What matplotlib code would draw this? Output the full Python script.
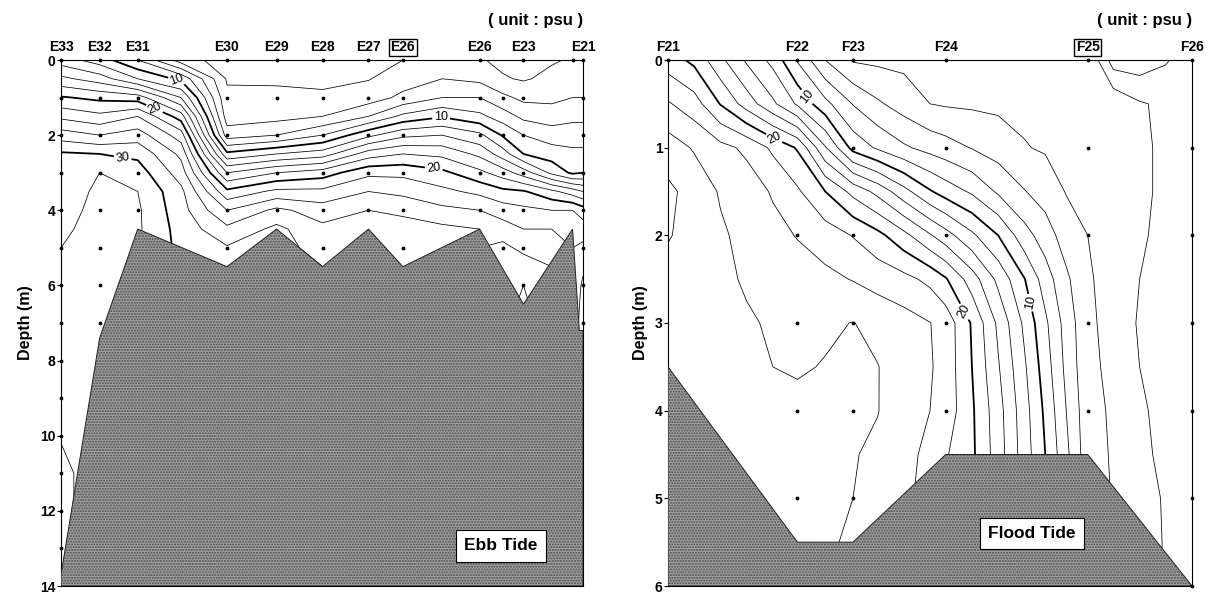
import numpy as np
import matplotlib
matplotlib.use("Agg")
from matplotlib import pyplot as plt
from matplotlib.patches import Polygon

plt.rcParams["font.family"] = ["Liberation Sans", "DejaVu Sans"]

# ---------------- ebb tide section (E stations) ----------------
ebb_stations = ["E33", "E32", "E31", "E30", "E29", "E28", "E27", "E26", "E26", "E23", "E21"]
ebb_station_x = [0.0, 0.074, 0.147, 0.318, 0.413, 0.501, 0.589, 0.655, 0.802, 0.886, 1.0]
ebb_boxed = 7

ebb_grid_x = [0.0, 0.074, 0.147, 0.23, 0.318, 0.413, 0.501, 0.589, 0.655, 0.73,
              0.802, 0.846, 0.886, 0.94, 0.98, 1.0]
ebb_grid_depth = [0, 0.5, 1, 1.5, 2, 2.5, 3, 3.5, 4, 4.5, 5, 5.5, 6, 6.5, 7,
                  8, 9, 10, 11, 12, 13, 14]
# salinity profiles, one list per grid column (psu)
ebb_profiles = [
    [13, 16.5, 20.2, 23.5, 27, 30.3, 30.8, 31.2, 31.5, 31.8, 32.0, 32.2, 32.3, 32.3, 32.3, 32.3, 32.3, 32.05, 31.8, 31.8, 31.8, 31.8],
    [11, 15, 19.5, 22.5, 26, 30, 32, 32.3, 32.4, 32.4, 32.4, 32.4, 32.4, 32.4, 32.4, 32.4, 32.4, 32.4, 32.4, 32.4, 32.4, 32.4],
    [8, 12, 19, 24, 27, 29.5, 31, 32, 32.3, 32.3, 32.3, 32.3, 32.3, 32.3, 32.3, 32.3, 32.3, 32.3, 32.3, 32.3, 32.3, 32.3],
    [3, 9.5, 14, 19, 23, 25.5, 27, 28.5, 28.8, 29.2, 29.4, 29.4, 29.4, 29.4, 29.4, 29.4, 29.4, 29.4, 29.4, 29.4, 29.4, 29.4],
    [1, 1.8, 2.4, 3, 5, 10.5, 16, 20.5, 24, 26.5, 28.2, 28.5, 28.5, 28.5, 28.5, 28.5, 28.5, 28.5, 28.5, 28.5, 28.5, 28.5],
    [1, 1.7, 2.5, 3.3, 6, 12, 18, 22.5, 26.5, 28.5, 28.5, 28.5, 28.5, 28.5, 28.5, 28.5, 28.5, 28.5, 28.5, 28.5, 28.5, 28.5],
    [1, 1.6, 2.3, 4, 8, 13, 19, 22.5, 25, 26.5, 27.5, 28, 28, 28, 28, 28, 28, 28, 28, 28, 28, 28],
    [1.2, 1.9, 3, 6, 11.5, 17, 21.5, 24, 26, 27.5, 27.5, 27.5, 27.5, 27.5, 27.5, 27.5, 27.5, 27.5, 27.5, 27.5, 27.5, 27.5],
    [2, 3, 4.5, 8.5, 13.5, 18, 21.5, 23.5, 25.5, 27, 27.8, 28, 28, 28, 28, 28, 28, 28, 28, 28, 28, 28],
    [3, 4, 6, 9.8, 14, 17.5, 20.5, 22.5, 24.5, 26.5, 27.5, 27.5, 27.5, 27.5, 27.5, 27.5, 27.5, 27.5, 27.5, 27.5, 27.5, 27.5],
    [2.2, 3.5, 6, 8.5, 12.5, 15.5, 18.5, 21.5, 24, 26, 26, 26, 26, 26, 26, 26, 26, 26, 26, 26, 26, 26],
    [1.5, 2.2, 4.5, 7, 9.8, 13, 17, 20.5, 23, 25, 26.5, 27, 27, 27, 27, 27, 27, 27, 27, 27, 27, 27],
    [1.5, 1.8, 3.5, 5.5, 8, 10, 15, 20.2, 22.5, 24, 25.5, 27, 28, 28.5, 28.5, 28.5, 28.5, 28.5, 28.5, 28.5, 28.5, 28.5],
    [1.8, 2.5, 3.5, 5, 7, 9, 11.5, 18.5, 22, 24, 25.5, 26, 26, 26, 26, 26, 26, 26, 26, 26, 26, 26],
    [2.2, 3, 4, 5.5, 7, 8.5, 9.6, 17, 22, 24, 24, 24, 24, 24, 24, 24, 24, 24, 24, 24, 24, 24],
    [2.5, 3.2, 4, 5.5, 7, 8.5, 10, 16, 21, 23, 24.5, 25.5, 26.5, 27, 27.5, 27.5, 27.5, 27.5, 27.5, 27.5, 27.5, 27.5],
]
ebb_bottom_x = [0.0, 0.0, 0.074, 0.147, 0.318, 0.413, 0.501, 0.589, 0.655, 0.802, 0.886, 0.98, 0.993, 1.0, 1.0]
ebb_bottom_depth = [14, 13.7, 7.4, 4.5, 5.5, 4.5, 5.5, 4.5, 5.5, 4.5, 6.5, 4.5, 7.2, 7.2, 14]

ebb_dot_x = [0.0, 0.074, 0.147, 0.318, 0.413, 0.501, 0.589, 0.655, 0.802, 0.846, 0.886, 0.98, 1.0]
ebb_dot_depths = [list(range(0, 14)), list(range(0, 8)), list(range(0, 5)), list(range(0, 6)),
                  list(range(0, 5)), list(range(0, 6)), list(range(0, 5)), list(range(0, 6)),
                  list(range(0, 5)), list(range(1, 6)), list(range(0, 7)), [0], list(range(0, 8))]

# ---------------- flood tide section (F stations) ----------------
flood_stations = ["F21", "F22", "F23", "F24", "F25", "F26"]
flood_station_x = [0.0, 0.247, 0.353, 0.53, 0.801, 1.0]
flood_boxed = 4

flood_grid_x = [0, 0.05, 0.1, 0.15, 0.2, 0.247, 0.3, 0.353, 0.4, 0.45, 0.5, 0.53,
                0.58, 0.63, 0.68, 0.72, 0.76, 0.801, 0.85, 0.9, 0.95, 1.0]
flood_grid_depth = [0, 0.5, 1, 1.5, 2, 2.5, 3, 3.5, 4, 4.5, 5, 5.5, 6]
# salinity rows, one list per depth (psu)
flood_rows = [
    [21, 19.5, 16.5, 13.7, 11.4, 7.8, 4, 1.8, 1.6, 1.5, 1.5, 1.5, 1.5, 1.5, 1.5, 1.5, 1.5, 1.5, 0.25, 0.2, 0.45, 0.8],
    [24.2, 22.9, 19.9, 17.1, 14.4, 11.7, 8.6, 5.9, 4.3, 3.1, 2.0, 1.8, 1.7, 1.6, 1.6, 1.6, 1.6, 1.7, 1.4, 1.05, 0.9, 0.8],
    [27, 25.8, 24.6, 23.6, 21.6, 19.8, 14.2, 9.3, 7.7, 6.3, 5.3, 4.8, 3.9, 3.1, 2.1, 1.8, 1.7, 1.6, 1.4, 1.1, 0.9, 0.8],
    [28.4, 27.3, 25.8, 25.0, 23.8, 22.3, 20.0, 17.4, 15.4, 12.7, 10.2, 9.1, 7.7, 5.7, 4.1, 3.1, 1.9, 1.7, 1.4, 1.1, 0.9, 0.8],
    [28.1, 27.5, 26.3, 25.4, 24.6, 23.9, 23.0, 21.9, 20.6, 18.6, 16.2, 14.8, 12.4, 10.0, 6.8, 5.0, 3.0, 2.0, 1.4, 1.05, 0.9, 0.8],
    [27.5, 27.1, 26.4, 25.8, 25.3, 24.9, 24.5, 23.9, 23.2, 22.6, 21.5, 20.2, 17.0, 13.5, 10.1, 7.0, 4.4, 2.2, 1.35, 1.0, 0.9, 0.8],
    [27.3, 27.0, 26.6, 26.2, 25.8, 25.5, 25.7, 26.05, 25.5, 24.8, 24.05, 23.2, 19.8, 15.6, 11.6, 8.4, 5.2, 2.4, 1.3, 0.95, 0.85, 0.8],
    [27.0, 26.8, 26.6, 26.3, 26.0, 25.8, 26.1, 26.3, 26.05, 25.2, 24.2, 23.2, 20.0, 16.2, 12.3, 9.0, 5.5, 2.5, 1.5, 1.0, 0.85, 0.8],
    [27.0, 26.9, 26.8, 26.7, 26.6, 26.5, 26.4, 26.3, 26.05, 25.1, 24.0, 23.2, 20.3, 16.8, 12.8, 9.6, 6.0, 2.7, 1.7, 1.05, 0.9, 0.8],
    [27.0, 26.9, 26.8, 26.7, 26.6, 26.5, 26.3, 26.1, 25.7, 24.6, 23.5, 22.2, 20.4, 17.0, 13.0, 10.0, 6.5, 2.8, 1.8, 1.1, 0.9, 0.8],
    [27.0, 26.9, 26.8, 26.7, 26.6, 26.6, 26.4, 26.0, 25.4, 24.3, 23.5, 22.2, 20.4, 17.0, 13.0, 10.0, 6.5, 2.8, 1.9, 1.2, 0.95, 0.8],
    [27.0, 26.9, 26.8, 26.7, 26.6, 26.6, 26.2, 25.8, 25.2, 24.3, 23.5, 22.2, 20.4, 17.0, 13.0, 10.0, 6.5, 2.8, 2.0, 1.3, 0.95, 0.8],
    [27.0, 26.9, 26.8, 26.7, 26.6, 26.6, 26.2, 25.8, 25.2, 24.3, 23.5, 22.2, 20.4, 17.0, 13.0, 10.0, 6.5, 2.8, 2.0, 1.3, 0.95, 0.8],
]
flood_bottom_x = [0.0, 0.0, 0.247, 0.353, 0.53, 0.801, 1.0, 1.0]
flood_bottom_depth = [6, 3.5, 5.5, 5.5, 4.5, 4.5, 6, 6]

flood_dot_x = [0.0, 0.247, 0.353, 0.53, 0.801, 1.0]
flood_dot_depths = [[0], [0, 2, 3, 4, 5], list(range(0, 6)), list(range(0, 5)),
                    list(range(0, 5)), list(range(0, 7))]

levels_thin = [0.5, 1, 2, 4, 6, 8, 12, 14, 16, 18, 22, 24, 26, 28, 32]
levels_bold = [10, 20, 30]


def draw_section(ax, gx, gd, sal, stations, station_x, boxed, bottom_x, bottom_depth,
                 dot_x, dot_depths, ymax, yticks, label_pos, tide, tide_xy):
    X, Y = np.meshgrid(gx, gd)
    ax.contour(X, Y, sal, levels=levels_thin, colors="black", linewidths=0.55, zorder=2)
    cs = ax.contour(X, Y, sal, levels=levels_bold, colors="black", linewidths=1.3, zorder=2)
    ax.clabel(cs, fmt="%d", fontsize=9, inline=True, inline_spacing=2, manual=label_pos)

    seabed = Polygon(list(zip(bottom_x, bottom_depth)), closed=True, facecolor="#a2a2a2",
                     edgecolor="#4a4a4a", hatch="......", linewidth=0, zorder=3)
    ax.add_patch(seabed)
    ax.add_patch(Polygon(list(zip(bottom_x, bottom_depth)), closed=True, fill=False,
                         edgecolor="#222222", linewidth=0.7, zorder=4))

    for x, ds in zip(dot_x, dot_depths):
        ax.scatter([x] * len(ds), ds, s=3, color="black", zorder=5, clip_on=False)

    ax.set_xlim(0, 1)
    ax.set_ylim(ymax, 0)
    ax.set_yticks(yticks)
    ax.set_yticklabels([str(t) for t in yticks], fontweight="bold", fontsize=10)
    ax.tick_params(axis="y", length=3, width=0.8, pad=1)
    ax.set_ylabel("Depth (m)", fontweight="bold", fontsize=11.5, labelpad=5)

    ax.xaxis.tick_top()
    ax.set_xticks(station_x)
    ax.set_xticklabels(stations, fontweight="bold", fontsize=10)
    ax.tick_params(axis="x", length=0, pad=4)
    lab = ax.get_xticklabels()[boxed]
    lab.set_bbox(dict(facecolor="white", edgecolor="black", linewidth=1, pad=1))

    for sp in ax.spines.values():
        sp.set_linewidth(0.8)

    ax.text(1.0, 1.076, "( unit : psu )", transform=ax.transAxes, ha="right",
            va="center", fontweight="bold", fontsize=12)
    ax.text(tide_xy[0], tide_xy[1], tide, ha="center", va="center", fontweight="bold",
            fontsize=12.5, zorder=6,
            bbox=dict(facecolor="white", edgecolor="black", linewidth=0.8, pad=6))


fig = plt.figure(figsize=(12.1, 5.95), dpi=100)
ax1 = fig.add_axes([61 / 1210, 9 / 595, 522 / 1210, 526 / 595])
ax2 = fig.add_axes([668 / 1210, 9 / 595, 524 / 1210, 526 / 595])

ebb_sal = np.array(ebb_profiles).T
draw_section(ax1, ebb_grid_x, ebb_grid_depth, ebb_sal, ebb_stations, ebb_station_x, ebb_boxed,
             ebb_bottom_x, ebb_bottom_depth, ebb_dot_x, ebb_dot_depths, 14,
             [0, 2, 4, 6, 8, 10, 12, 14],
             [(0.219, 0.71), (0.728, 1.51), (0.178, 1.33), (0.714, 2.89), (0.12, 2.44)],
             "Ebb Tide", (0.843, 12.93))

flood_sal = np.array(flood_rows)
draw_section(ax2, flood_grid_x, flood_grid_depth, flood_sal, flood_stations, flood_station_x,
             flood_boxed, flood_bottom_x, flood_bottom_depth, flood_dot_x, flood_dot_depths, 6,
             [0, 1, 2, 3, 4, 5, 6],
             [(0.267, 0.41), (0.69, 2.77), (0.204, 0.87), (0.572, 2.85)],
             "Flood Tide", (0.695, 5.40))

fig.savefig("out.png", dpi=100)
